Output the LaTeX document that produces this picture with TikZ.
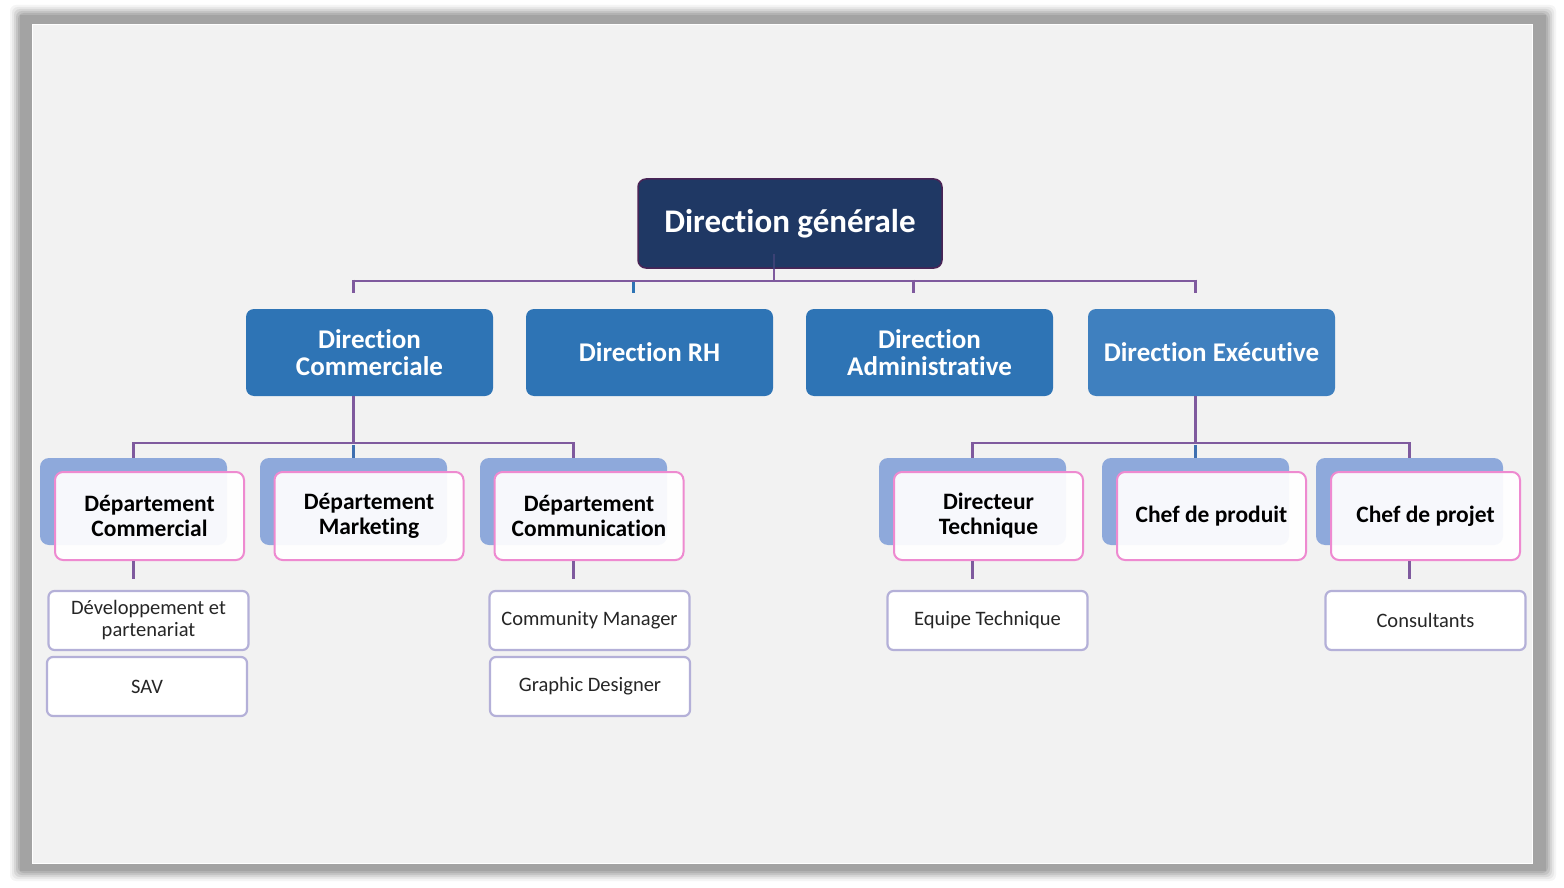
\documentclass[tikz,border=0pt]{standalone}
\usepackage{fontspec}
\setmainfont{Carlito}[Ligatures={NoCommon}]
\usetikzlibrary{calc}
\definecolor{navy}{HTML}{1F3864}
\definecolor{navyedge}{HTML}{4A2456}
\definecolor{blueA}{HTML}{2E74B5}
\definecolor{blueB}{HTML}{3F80BF}
\definecolor{backblue}{HTML}{8EA9DB}
\definecolor{pinkedge}{HTML}{EE8AD0}
\definecolor{lav}{HTML}{B4B0D8}
\definecolor{conn}{HTML}{7F5A9E}
\definecolor{panel}{HTML}{F2F2F2}
\tikzset{
  topbox/.style={draw=navyedge, line width=1.5pt, fill=navy, rounded corners=8pt, minimum width=304pt, minimum height=89pt, text=white, font=\fontsize{33}{36}\selectfont\bfseries, align=center, inner sep=0pt},
  dirbox/.style={fill=blueA, rounded corners=8pt, minimum width=247pt, minimum height=87pt, text=white, font=\fontsize{27}{27}\selectfont\bfseries, align=center, inner sep=0pt},
  backbox/.style={fill=backblue, rounded corners=9pt, minimum width=187pt, minimum height=87pt, inner sep=0pt},
  deptbox/.style={draw=pinkedge, line width=2pt, fill=white, fill opacity=0.93, text opacity=1, rounded corners=8pt, minimum width=189pt, minimum height=88pt, text=black, font=\fontsize{23.5}{25}\selectfont\bfseries, align=center, inner sep=0pt},
  smallbox/.style={draw=lav, line width=2.2pt, fill=white, rounded corners=6pt, minimum width=200pt, minimum height=59pt, text=black!85, font=\fontsize{20.5}{22}\selectfont, align=center, inner sep=0pt},
  link/.style={draw=conn, line width=2.6pt},
}
\begin{document}
\begin{tikzpicture}[x=1pt,y=-1pt]
\useasboundingbox (0,0) rectangle (1564,888);
\fill[white] (0,0) rectangle (1564,888);
% frame shadow
\foreach \d/\o in {10/0.10,8/0.15,6/0.22,4/0.32,2/0.45}{
  \fill[black!38,opacity=\o,rounded corners=6pt] (20-\d,15-\d) rectangle (1546+\d,871+\d);
}
\fill[black!36] (20,15) rectangle (1546,871);
\fill[panel,draw=white,line width=1pt] (32,25) rectangle (1532,863);

% top
\node[topbox] (dg) at (790,223.5) {Direction générale};
% level 2
\node[dirbox] (dc) at (369.5,352.5) {Direction\\Commerciale};
\node[dirbox] (rh) at (649.5,352.5) {Direction RH};
\node[dirbox] (da) at (929.5,352.5) {Direction\\Administrative};
\node[dirbox, fill=blueB] (de) at (1211.5,352.5) {Direction Exécutive};

% level 3 back boxes
\node[backbox] (b1) at (133.5,501.5) {};
\node[backbox] (b2) at (353.5,501.5) {};
\node[backbox] (b3) at (573.5,501.5) {};
\node[backbox] (b4) at (972.5,501.5) {};
\node[backbox] (b5) at (1195.5,501.5) {};
\node[backbox] (b6) at (1409.5,501.5) {};
% level 3 front boxes
\node[deptbox] (d1) at (149.5,516) {Département\\Commercial};
\node[deptbox] (d2) at (369,516) {Département\\Marketing};
\node[deptbox] (d3) at (589,516) {Département\\Communication};
\node[deptbox] (d4) at (988.5,516) {Directeur\\Technique};
\node[deptbox] (d5) at (1211.5,516) {Chef de produit};
\node[deptbox] (d6) at (1425.5,516) {Chef de projet};

% small boxes
\node[smallbox] (s1) at (148.5,620.5) {Développement et\\partenariat};
\node[smallbox] (s2) at (147,686.5) {SAV};
\node[smallbox] (s3) at (589.5,620.5) {Community Manager};
\node[smallbox] (s4) at (590,686.5) {Graphic Designer};
\node[smallbox] (s5) at (987.5,620.5) {Equipe Technique};
\node[smallbox] (s6) at (1425.5,620.5) {Consultants};

% connectors top -> level 2
\coordinate (busA) at (774,281);
\coordinate (dgdrop) at (774,254);
\draw[link, draw=navy!70!conn] (dgdrop) -- ($(dg.south -| busA)$);
\draw[link] ($(dg.south -| busA)$) -- (busA);
\draw[link] ($(dc.north)+(-16,-28)$) -- ($(de.north)+(-16,-28)$);
\draw[link] ($(dc.north)+(-16,-29.3)$) -- ($(dc.north)+(-16,-16)$);
\draw[link, draw=blueA] ($(rh.north)+(-16,-27)$) -- ($(rh.north)+(-16,-16)$);
\draw[link] ($(da.north)+(-16,-29.3)$) -- ($(da.north)+(-16,-16)$);
\draw[link] ($(de.north)+(-16,-29.3)$) -- ($(de.north)+(-16,-16)$);

% level 2 -> level 3 left
\draw[link] (dc.south -| b2.north) -- ($(b2.north)+(0,-15)$);
\draw[link] ($(b1.north)+(0,0)$) -- ($(b1.north)+(0,-15)$) -- ($(b3.north)+(0,-15)$) -- (b3.north);
\draw[link, draw=blueA!80!conn] ($(b2.north)+(0,-13)$) -- (b2.north);
% level 2 -> level 3 right
\draw[link] (de.south -| b5.north) -- ($(b5.north)+(0,-15)$);
\draw[link] (b4.north) -- ($(b4.north)+(0,-15)$) -- ($(b6.north)+(0,-15)$) -- (b6.north);
\draw[link, draw=blueA!80!conn] ($(b5.north)+(0,-13)$) -- (b5.north);

% level 3 -> small boxes
\draw[link] (d1.south -| b1.south) -- ++(0,18);
\draw[link] (d3.south -| b3.south) -- ++(0,18);
\draw[link] (d4.south -| b4.south) -- ++(0,18);
\draw[link] (d6.south -| b6.south) -- ++(0,18);
\end{tikzpicture}
\end{document}
